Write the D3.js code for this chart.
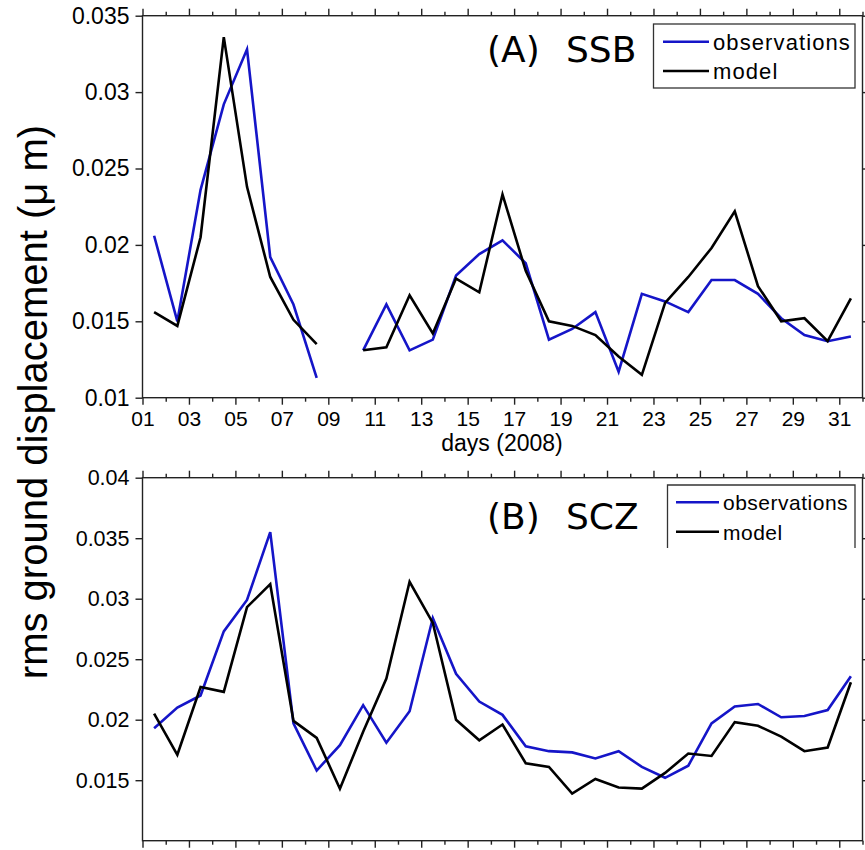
<!DOCTYPE html>
<html><head><meta charset="utf-8">
<script src="https://cdn.jsdelivr.net/npm/d3@7"></script>
<style>
body{margin:0;background:#fff;}
text{font-family:"Liberation Sans",Arial,sans-serif;fill:#000;}
</style></head>
<body><svg id="c" width="865" height="850"></svg>
<script>
// ---- data ----
const days = d3.range(1, 32); // day 1..31
const majorDays = [1,3,5,7,9,11,13,15,17,19,21,23,25,27,29,31];
const dayLabels = ["01","03","05","07","09","11","13","15","17","19","21","23","25","27","29","31"];
const ssbObs = [0.0206,0.0150,0.0236,0.0292,0.0328,0.0192,0.0161,0.0113,null,0.0131,0.0161,0.0131,0.0138,0.0180,0.0194,0.0203,
  0.0188,0.0138,0.0145,0.0156,0.0117,0.0168,0.0163,0.0156,0.0177,0.0177,0.0168,0.0152,0.0141,0.0137,0.0140];
const ssbModel = [0.0156,0.0147,0.0205,0.0336,0.0238,0.0179,0.0151,0.0135,null,0.0131,0.0133,0.0167,0.0142,0.0178,0.0169,0.0233,
  0.0183,0.0150,0.0147,0.0141,0.0127,0.0115,0.0162,0.0179,0.0198,0.0222,0.0173,0.0150,0.0152,0.0137,0.0165];
const sczObs = [0.0193,0.0210,0.0220,0.0273,0.0299,0.0355,0.0197,0.0158,0.0179,0.0212,0.0181,0.0207,0.0284,0.0238,0.0215,0.0204,
  0.0178,0.0174,0.0173,0.0168,0.0174,0.0161,0.0152,0.0162,0.0197,0.0211,0.0213,0.0202,0.0203,0.0208,0.0236];
const sczModel = [0.0205,0.0171,0.0227,0.0223,0.0293,0.0312,0.0199,0.0185,0.0143,0.0190,0.0234,0.0314,0.0280,0.0200,0.0183,0.0196,
  0.0164,0.0161,0.0139,0.0151,0.0144,0.0143,0.0156,0.0172,0.0170,0.0198,0.0195,0.0186,0.0174,0.0177,0.0231];
const ssbTicks = [0.01,0.015,0.02,0.025,0.03,0.035];
const ssbTickLabels = ["0.01","0.015","0.02","0.025","0.03","0.035"];
const sczTicks = [0.015,0.02,0.025,0.03,0.035,0.04];
const sczTickLabels = ["0.015","0.02","0.025","0.03","0.035","0.04"];
const seriesNames = ["observations","model"];
const seriesColors = ["#1515c8","#000000"];

const svg = d3.select("#c");
const X0 = 142.5, X1 = 862.5;

function panel(cfg){
  const g = svg.append("g");
  const x = d3.scaleLinear().domain([1,32]).range([X0,X1]);
  const y = d3.scaleLinear().domain(cfg.ydom).range([cfg.bottom,cfg.top]);
  const minor = d3.range(2,33,2);
  const axStyle = sel => { sel.select(".domain").remove(); sel.selectAll("line").attr("stroke","#222").attr("stroke-width",1.4); };
  // minor ticks x (bottom/top)
  g.append("g").attr("transform",`translate(0,${cfg.bottom})`)
    .call(d3.axisBottom(x).tickValues(minor).tickSize(4).tickFormat("")).call(axStyle);
  g.append("g").attr("transform",`translate(0,${cfg.top})`)
    .call(d3.axisTop(x).tickValues(minor).tickSize(4).tickFormat("")).call(axStyle);
  const bx = g.append("g").attr("transform",`translate(0,${cfg.bottom})`)
    .call(d3.axisBottom(x).tickValues(majorDays).tickSize(7).tickPadding(6)
      .tickFormat((d,i)=> cfg.xlabels ? dayLabels[i] : "")).call(axStyle);
  bx.selectAll("text").style("font-size","21px").attr("fill","#000");
  g.append("g").attr("transform",`translate(0,${cfg.top})`)
    .call(d3.axisTop(x).tickValues(majorDays).tickSize(7).tickFormat("")).call(axStyle);
  const ly = g.append("g").attr("transform",`translate(${X0},0)`)
    .call(d3.axisLeft(y).tickValues(cfg.yticks).tickSize(7).tickPadding(6)
      .tickFormat((d,i)=>cfg.ylabels[i])).call(axStyle);
  ly.selectAll("text").style("font-size",cfg.yfs+"px").attr("fill","#000");
  g.append("g").attr("transform",`translate(${X1},0)`)
    .call(d3.axisRight(y).tickValues(cfg.yticks).tickSize(7).tickFormat("")).call(axStyle);
  // frame
  g.append("rect").attr("x",X0).attr("y",cfg.top).attr("width",X1-X0).attr("height",cfg.bottom-cfg.top)
    .attr("fill","none").attr("stroke","#222").attr("stroke-width",1.4);
  // lines
  const line = d3.line().defined(d=>d!=null).x((d,i)=>x(days[i]+0.5)).y(d=>y(d));
  [cfg.obs, cfg.model].forEach((s,k)=>{
    g.append("path").datum(s).attr("d",line).attr("fill","none")
      .attr("stroke",seriesColors[k]).attr("stroke-width",2.6).attr("stroke-linejoin","miter");
  });
  // title
  g.append("text").attr("x",487).attr("y",cfg.titleY).text(cfg.tA)
    .style("font-family","'DejaVu Sans',sans-serif").style("font-size","36px");
  g.append("text").attr("x",566).attr("y",cfg.titleY).text(cfg.tB)
    .style("font-family","'DejaVu Sans',sans-serif").style("font-size","36px");
  // legend
  const L = cfg.leg;
  if (L.closed) {
    g.append("rect").attr("x",L.x0).attr("y",L.y0).attr("width",L.x1-L.x0).attr("height",L.y1-L.y0)
      .attr("fill","#fff").attr("stroke","#333").attr("stroke-width",1.3);
  } else {
    g.append("rect").attr("x",L.x0).attr("y",L.y0).attr("width",L.x1-L.x0).attr("height",L.y1-L.y0)
      .attr("fill","#fff").attr("stroke","none");
    g.append("path").attr("d",`M${L.x0},${L.y1}V${L.y0}H${L.x1}V${L.y1}`)
      .attr("fill","none").attr("stroke","#333").attr("stroke-width",1.3);
  }
  seriesNames.forEach((nm,k)=>{
    const ly2 = L.ly[k];
    g.append("line").attr("x1",L.lx0).attr("x2",L.lx1).attr("y1",ly2).attr("y2",ly2)
      .attr("stroke",seriesColors[k]).attr("stroke-width",2.6);
    g.append("text").attr("x",L.tx).attr("y",ly2+8).text(nm)
      .style("font-size",L.fs+"px").style("letter-spacing",L.ls+"px");
  });
}

panel({top:15.7,bottom:397.7,ydom:[0.01,0.035],yticks:ssbTicks,ylabels:ssbTickLabels,yfs:23,xlabels:true,
  obs:ssbObs,model:ssbModel,titleY:62,tA:"(A)",tB:"SSB",
  leg:{closed:true,x0:653.5,y0:24,x1:855,y1:88,lx0:663,lx1:709,ly:[41.7,71],tx:713,fs:22,ls:1.1}});
panel({top:477.7,bottom:840.7,ydom:[0.01,0.04],yticks:sczTicks,ylabels:sczTickLabels,yfs:21.5,xlabels:false,
  obs:sczObs,model:sczModel,titleY:529,tA:"(B)",tB:"SCZ",
  leg:{closed:false,x0:667.5,y0:485,x1:855,y1:548,lx0:676,lx1:719,ly:[502.3,531.7],tx:723,fs:21,ls:0.5}});

svg.append("text").attr("x",502).attr("y",451).attr("text-anchor","middle")
  .style("font-size","23px").text("days (2008)");
svg.append("text").attr("transform","translate(47,402) rotate(-90)").attr("text-anchor","middle")
  .style("font-size","40px").text("rms ground displacement (\u03bc m)");
</script></body></html>
